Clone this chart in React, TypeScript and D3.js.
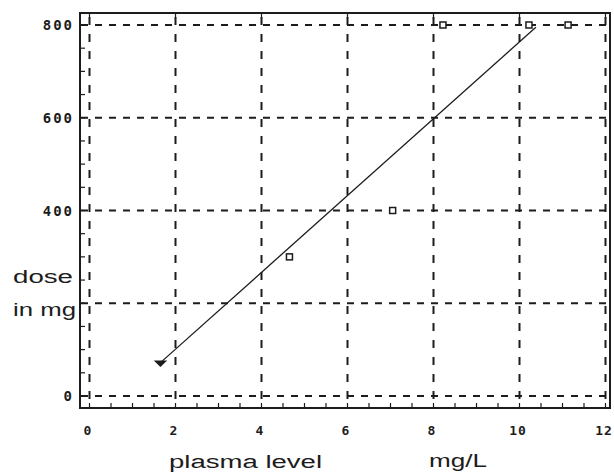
import { useEffect, useRef } from 'react'
import { select, scaleLinear, range, line, symbol, symbolTriangle } from 'd3'

// values
const plasmaLevels = [1.65, 4.65, 7.05, 8.22, 10.22, 11.13]
const doses = [72, 300, 400, 800, 800, 800]
const fitX = [1.65, 10.38]
const fitY = [72, 795]
const xTicks = [0, 2, 4, 6, 8, 10, 12]
const yTicks = [0, 200, 400, 600, 800]
const yTickLabels = ['0', '', '400', '600', '800']

function App() {
  const svg_ref = useRef<SVGSVGElement>(null)
  const width = 614,
        height = 476
  const frame = { left: 80, top: 13, right: 610, bottom: 408 }

  useEffect(() => {
    const svg = select(svg_ref.current)
    svg.selectAll('*').remove()

    const x = scaleLinear([0, 12], [89.5, 605.5]),
          y = scaleLinear([0, 800], [396, 25])
    const ink = '#1c1c1c'
    const tickFont = '"DejaVu Sans Mono", monospace'
    const titleFont = '"Liberation Sans", Arial, sans-serif'

    // frame
    svg.append('rect')
      .attr('x', frame.left)
      .attr('y', frame.top)
      .attr('width', frame.right - frame.left)
      .attr('height', frame.bottom - frame.top)
      .attr('fill', 'white')
      .attr('stroke', ink)
      .attr('stroke-width', 2)

    // dashed grid
    svg.append('g')
      .selectAll('line')
      .data(xTicks)
      .join('line')
      .attr('x1', d => x(d)).attr('x2', d => x(d))
      .attr('y1', frame.top + 4).attr('y2', frame.bottom - 1)
      .attr('stroke', ink)
      .attr('stroke-width', 2)
      .attr('stroke-dasharray', '8,9')

    svg.append('g')
      .selectAll('line')
      .data(yTicks)
      .join('line')
      .attr('x1', frame.left + 1).attr('x2', frame.right - 1)
      .attr('y1', d => y(d)).attr('y2', d => y(d))
      .attr('stroke', ink)
      .attr('stroke-width', 2)
      .attr('stroke-dasharray', '7,7')

    // minor ticks
    svg.append('g')
      .selectAll('line')
      .data(range(0, 12.01, 0.5))
      .join('line')
      .attr('x1', d => x(d)).attr('x2', d => x(d))
      .attr('y1', frame.bottom - 1).attr('y2', frame.bottom - 5)
      .attr('stroke', ink)
      .attr('stroke-width', 1.2)

    svg.append('g')
      .selectAll('line')
      .data(range(0, 801, 50))
      .join('line')
      .attr('x1', frame.left + 1).attr('x2', frame.left + 5)
      .attr('y1', d => y(d)).attr('y2', d => y(d))
      .attr('stroke', ink)
      .attr('stroke-width', 1.2)

    svg.append('g')
      .selectAll('line')
      .data(xTicks)
      .join('line')
      .attr('x1', d => x(d)).attr('x2', d => x(d))
      .attr('y1', frame.top + 1).attr('y2', frame.top + 6)
      .attr('stroke', ink)
      .attr('stroke-width', 1.2)

    // tick labels
    svg.append('g')
      .selectAll('text')
      .data(xTicks)
      .join('text')
      .attr('x', d => x(d) - 1.5)
      .attr('y', 435)
      .attr('text-anchor', 'middle')
      .attr('font-family', tickFont)
      .attr('font-weight', 'bold')
      .attr('font-size', 13)
      .attr('letter-spacing', 1)
      .attr('fill', ink)
      .text(d => d)

    svg.append('g')
      .selectAll('text')
      .data(yTicks)
      .join('text')
      .attr('x', 74)
      .attr('y', d => y(d) + 5)
      .attr('text-anchor', 'end')
      .attr('font-family', tickFont)
      .attr('font-weight', 'bold')
      .attr('font-size', 14)
      .attr('letter-spacing', 2)
      .attr('fill', ink)
      .text((d, i) => yTickLabels[i])

    // fitted line
    svg.append('path')
      .datum(fitX.map((v, i) => [v, fitY[i]]))
      .attr('d', line<number[]>().x(d => x(d[0])).y(d => y(d[1])))
      .attr('fill', 'none')
      .attr('stroke', ink)
      .attr('stroke-width', 1.3)

    // points
    const pts = plasmaLevels.map((v, i) => ({ px: v, dose: doses[i] }))
    svg.append('g')
      .selectAll('rect')
      .data(pts.slice(1))
      .join('rect')
      .attr('x', d => x(d.px) - 3)
      .attr('y', d => y(d.dose) - 3)
      .attr('width', 6)
      .attr('height', 6)
      .attr('fill', 'white')
      .attr('stroke', ink)
      .attr('stroke-width', 1.5)

    svg.append('path')
      .datum(pts[0])
      .attr('d', symbol(symbolTriangle, 40)())
      .attr('transform', d => `translate(${x(d.px)}, ${y(d.dose)}) rotate(180) scale(1.4, 0.8)`)
      .attr('fill', ink)

    // axis titles
    const titles = [
      { t: 'dose', x: 13, y: 283, len: 60 },
      { t: 'in mg', x: 13, y: 316, len: 63 },
      { t: 'plasma level', x: 169, y: 468, len: 153 },
      { t: 'mg/L', x: 429, y: 467, len: 58 },
    ]
    svg.append('g')
      .selectAll('text')
      .data(titles)
      .join('text')
      .attr('x', d => d.x)
      .attr('y', d => d.y)
      .attr('textLength', d => d.len)
      .attr('lengthAdjust', 'spacingAndGlyphs')
      .attr('font-family', titleFont)
      .attr('font-size', 18)
      .attr('fill', ink)
      .text(d => d.t)
  }, [])

  return (
    <svg
      ref={svg_ref}
      width={width}
      height={height}
      viewBox={`0 0 ${width} ${height}`}
      style={{ position: 'absolute', left: 0, top: 0, background: 'white' }}
    ></svg>
  )
}

export default App
